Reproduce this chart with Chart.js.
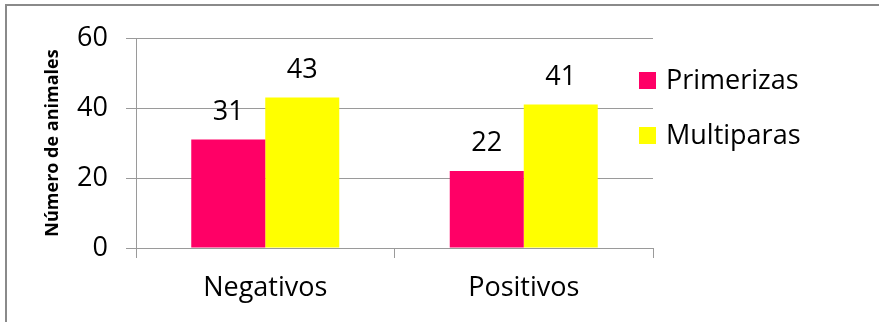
<!DOCTYPE html>
<html>
<head>
<meta charset="utf-8">
<script src="https://cdn.jsdelivr.net/npm/chart.js@4.4.0/dist/chart.umd.min.js"></script>
<style>
  html, body { margin: 0; padding: 0; background: #fff; overflow: hidden; }
  .frame {
    position: absolute; left: 5px; top: 4px; width: 1000px; height: 1000px;
    border-left: 2px solid #8a8a8a; border-top: 2px solid #8a8a8a;
  }
  .wrap { position: absolute; left: 0; top: 0; width: 879px; height: 322px; }
</style>
</head>
<body>
<div class="frame"></div>
<div class="wrap"><canvas id="chart" width="879" height="322"></canvas></div>
<script>
const categories = ['Negativos', 'Positivos'];
const seriesNames = ['Primerizas', 'Multiparas'];
const primerizas = [31, 22];
const multiparas = [43, 41];
const yTicks = [0, 20, 40, 60];

const PINK = '#ff0066';
const YELLOW = '#ffff00';
const GRID = '#9a9a9a';
const FONT = '"Open Sans", sans-serif';

Chart.defaults.font.family = FONT;
Chart.defaults.color = '#000';

// numbers above each bar
const valueLabels = {
  id: 'valueLabels',
  afterDatasetsDraw(chart) {
    const { ctx } = chart;
    ctx.save();
    ctx.font = '27px ' + FONT;
    ctx.fillStyle = '#000';
    ctx.textAlign = 'center';
    ctx.textBaseline = 'alphabetic';
    chart.data.datasets.forEach((ds, i) => {
      chart.getDatasetMeta(i).data.forEach((bar, j) => {
        ctx.fillText(ds.data[j], bar.x, bar.y - 20);
      });
    });
    ctx.restore();
  }
};

// legend sits at the right, slightly overlapping the plot edge
const sideLegend = {
  id: 'sideLegend',
  afterDraw(chart) {
    const { ctx, chartArea } = chart;
    const x = chartArea.right - 14;
    ctx.save();
    ctx.font = '27px ' + FONT;
    ctx.textAlign = 'left';
    ctx.textBaseline = 'alphabetic';
    chart.data.datasets.forEach((ds, i) => {
      const base = 89 + i * 55;
      ctx.fillStyle = ds.backgroundColor;
      ctx.fillRect(x, base - 17, 17, 17);
      ctx.fillStyle = '#000';
      ctx.fillText(ds.label, x + 27, base);
    });
    ctx.restore();
  }
};

new Chart(document.getElementById('chart'), {
  type: 'bar',
  data: {
    labels: categories,
    datasets: [
      { label: seriesNames[0], data: primerizas, backgroundColor: PINK },
      { label: seriesNames[1], data: multiparas, backgroundColor: YELLOW }
    ]
  },
  options: {
    responsive: false,
    animation: false,
    devicePixelRatio: 1,
    layout: { padding: { left: 30, top: 38, right: 226, bottom: 0 } },
    datasets: {
      bar: { categoryPercentage: 0.5725, barPercentage: 1, borderWidth: 0 }
    },
    plugins: {
      legend: { display: false },
      tooltip: { enabled: false }
    },
    scales: {
      x: {
        grid: { drawOnChartArea: false, drawTicks: true, tickLength: 10, color: GRID, offset: true },
        border: { color: GRID },
        ticks: { font: { size: 27 }, padding: 14 },
        afterFit: (s) => { s.height = 74; }
      },
      y: {
        min: 0,
        max: 60,
        afterBuildTicks: (s) => { s.ticks = yTicks.map(v => ({ value: v })); },
        grid: { color: GRID, tickLength: 10 },
        border: { color: GRID },
        ticks: { font: { size: 27 }, padding: 18 },
        title: {
          display: true,
          text: 'Número de animales',
          font: { size: 18, weight: 'bold' },
          padding: { top: 12, bottom: 0 }
        },
        afterFit: (s) => { s.width = 106; }
      }
    }
  },
  plugins: [valueLabels, sideLegend]
});
</script>
</body>
</html>
